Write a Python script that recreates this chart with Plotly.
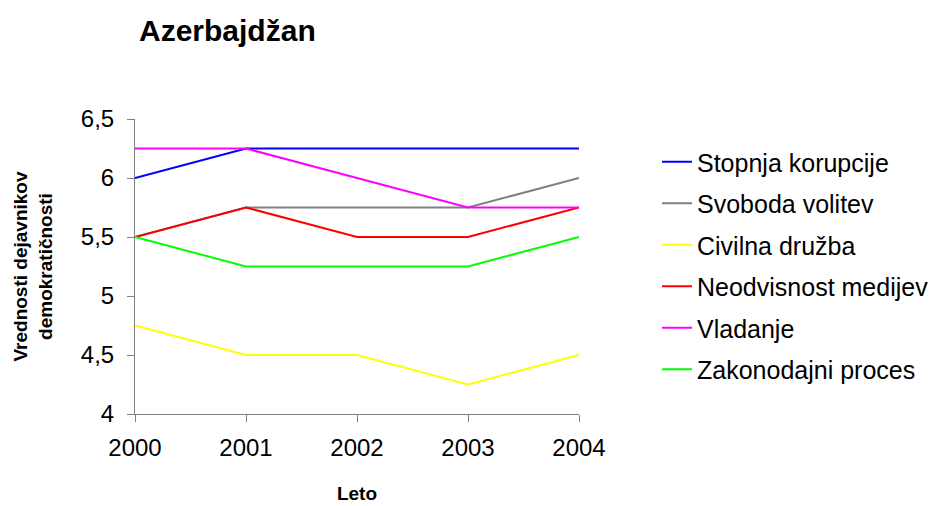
import plotly.graph_objects as go

years = [2000, 2001, 2002, 2003, 2004]
series_names = ["Stopnja korupcije", "Svoboda volitev", "Civilna družba",
                "Neodvisnost medijev", "Vladanje", "Zakonodajni proces"]
stopnja_korupcije = [6.0, 6.25, 6.25, 6.25, 6.25]
svoboda_volitev = [5.5, 5.75, 5.75, 5.75, 6.0]
civilna_druzba = [4.75, 4.5, 4.5, 4.25, 4.5]
neodvisnost_medijev = [5.5, 5.75, 5.5, 5.5, 5.75]
vladanje = [6.25, 6.25, 6.0, 5.75, 5.75]
zakonodajni_proces = [5.5, 5.25, 5.25, 5.25, 5.5]
values = [stopnja_korupcije, svoboda_volitev, civilna_druzba,
          neodvisnost_medijev, vladanje, zakonodajni_proces]
colors = ["#0000FF", "#808080", "#FFFF00", "#FF0000", "#FF00FF", "#00FF00"]
ytick_vals = [4, 4.5, 5, 5.5, 6, 6.5]

FONT = "Liberation Sans, Arial, sans-serif"

fig = go.Figure()
for name, vals, col in zip(series_names, values, colors):
    fig.add_trace(go.Scatter(x=years, y=vals, mode="lines", name=name,
                             legendgroup=name,
                             line=dict(color=col, width=2)))

L, T, PW, PH = 135, 119, 444, 295
fig.update_layout(
    width=938, height=506,
    margin=dict(l=L, r=938 - L - PW, t=T, b=506 - T - PH),
    paper_bgcolor="white", plot_bgcolor="white",
    separators=", ",
    font=dict(family=FONT, color="black", size=24),
    title=dict(text="<b>Azerbajdžan</b>", x=139/938, xanchor="left",
               y=1-30/506, yanchor="middle",
               font=dict(family=FONT, size=30, color="black")),
    showlegend=True,
    legend=dict(xref="container", yref="container",
                x=657/938, xanchor="left", y=1-139/506, yanchor="top",
                font=dict(family=FONT, size=25, color="black"),
                tracegroupgap=6, bgcolor="rgba(0,0,0,0)"),
    xaxis=dict(range=[2000, 2004], tickvals=years, ticktext=[str(y) for y in years],
               showline=True, linecolor="#808080", linewidth=1,
               ticks="outside", ticklen=7, tickcolor="#808080", tickwidth=1,
               showgrid=False, zeroline=False, ticklabelstandoff=5,
               automargin=False,
               tickfont=dict(family=FONT, size=24, color="black"),
               title=dict(text="<b>Leto</b>", standoff=26,
                          font=dict(family=FONT, size=19, color="black"))),
    yaxis=dict(range=[4, 6.5], tickvals=ytick_vals,
               showline=True, linecolor="#808080", linewidth=1,
               ticks="outside", ticklen=7, tickcolor="#808080", tickwidth=1,
               showgrid=False, zeroline=False, ticklabelstandoff=8,
               automargin=False,
               tickfont=dict(family=FONT, size=24, color="black"),
               title=dict(text="<b>Vrednosti dejavnikov<br>demokratičnosti</b>",
                          standoff=23,
                          font=dict(family=FONT, size=19, color="black"))),
)

fig.write_html("out.html", config={"displayModeBar": False},
               post_script="document.body.style.margin='0';document.body.style.overflow='hidden';")
